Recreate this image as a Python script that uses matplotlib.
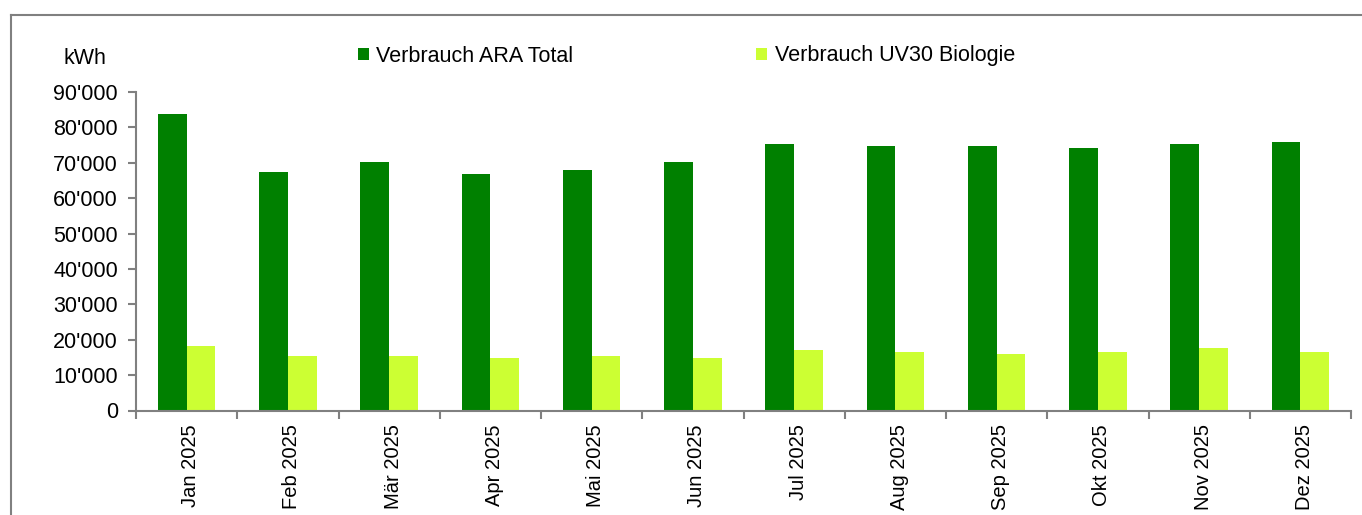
import numpy as np
import matplotlib
matplotlib.use("Agg")
from matplotlib import pyplot as plt
from matplotlib.patches import Patch
from matplotlib.lines import Line2D
from matplotlib.ticker import FuncFormatter, FixedLocator

plt.rcParams["font.family"] = ["Liberation Sans", "DejaVu Sans"]

MONTHS = ["Jan 2025", "Feb 2025", "Mär 2025", "Apr 2025", "Mai 2025", "Jun 2025",
          "Jul 2025", "Aug 2025", "Sep 2025", "Okt 2025", "Nov 2025", "Dez 2025"]
ARA_TOTAL = [83800, 67400, 70200, 66700, 67900, 70100, 75200, 74600, 74600, 74200, 75300, 75900]
UV30_BIO = [18300, 15500, 15400, 14800, 15400, 14800, 17100, 16500, 15900, 16600, 17800, 16600]
SERIES_NAMES = ["Verbrauch ARA Total", "Verbrauch UV30 Biologie"]

DARK = "#008000"
LIGHT = "#CCFF33"
AXIS_GREY = "#808080"
FS = 15.5

W, H = 1362, 515
fig = plt.figure(figsize=(W / 100, H / 100), dpi=100)
ax = fig.add_axes([136 / W, 1 - 410.5 / H, (1351 - 136) / W, (410.5 - 92) / H])

x = np.arange(len(MONTHS))
bw = 0.285
ax.bar(x - bw / 2, ARA_TOTAL, width=bw, color=DARK, linewidth=0)
ax.bar(x + bw / 2, UV30_BIO, width=bw, color=LIGHT, linewidth=0)

ax.set_xlim(-0.5, len(MONTHS) - 0.5)
ax.set_ylim(0, 90000)
ax.set_yticks(np.arange(0, 90001, 10000))
ax.yaxis.set_major_formatter(FuncFormatter(lambda v, p: f"{int(v):,}".replace(",", "'")))

# month labels centred, tick marks at category boundaries
ax.set_xticks(x + 0.04)
ax.set_xticklabels(MONTHS, rotation=90, fontsize=14.5)
ax.tick_params(axis="x", which="major", length=0, pad=10)
ax.xaxis.set_minor_locator(FixedLocator(np.arange(-0.5, len(MONTHS), 1.0)))
ax.tick_params(axis="x", which="minor", length=6, width=1.5, color=AXIS_GREY, direction="out")
ax.tick_params(axis="y", length=6, width=1.5, color=AXIS_GREY, labelsize=FS, pad=7)

for s in ["top", "right"]:
    ax.spines[s].set_visible(False)
for s in ["left", "bottom"]:
    ax.spines[s].set_color(AXIS_GREY)
    ax.spines[s].set_linewidth(1.5)

fig.text(85 / W, 1 - 59 / H, "kWh", ha="center", va="center", fontsize=FS)

handles = [Patch(facecolor=DARK, edgecolor="none"), Patch(facecolor=LIGHT, edgecolor="none")]
fig.legend(handles, SERIES_NAMES, loc="center left", bbox_to_anchor=(358 / W, 1 - 56 / H),
           ncol=2, frameon=False, fontsize=FS, handlelength=0.5, handleheight=0.5,
           handletextpad=0.35, columnspacing=8.5, borderpad=0, borderaxespad=0)

# outer chart frame (left and top edges visible)
fig.add_artist(Line2D([11 / W, 11 / W], [0, 1 - 15 / H], color=AXIS_GREY, lw=1.5))
fig.add_artist(Line2D([11 / W, 1], [1 - 15 / H, 1 - 15 / H], color=AXIS_GREY, lw=1.5))

fig.savefig("out.png", dpi=100)
